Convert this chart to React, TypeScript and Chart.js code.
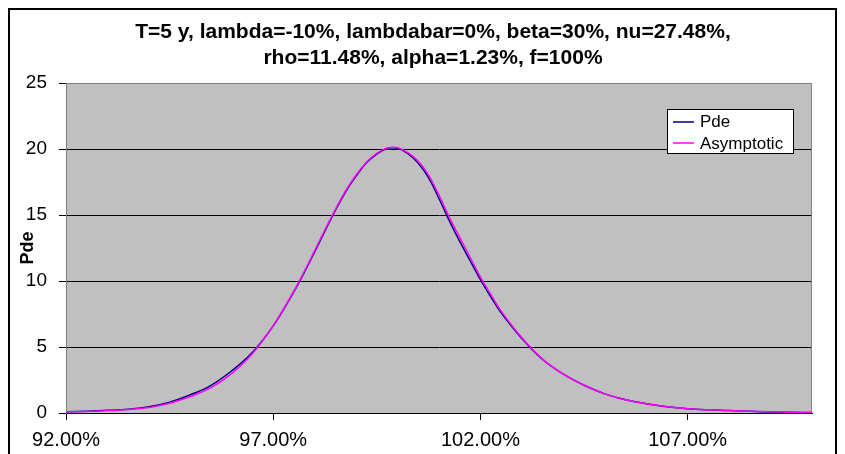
import React, { useEffect, useRef } from 'react';
import { Chart, registerables } from 'chart.js';

Chart.register(...registerables);

const TITLE_LINES = [
  'T=5 y, lambda=-10%, lambdabar=0%, beta=30%, nu=27.48%,',
  'rho=11.48%, alpha=1.23%, f=100%',
];
const Y_TITLE = 'Pde';
const SERIES_NAMES = ['Pde', 'Asymptotic'];
const SERIES_COLORS = ['#000080', '#FF00FF'];

const STRIKES = [
  92.0, 92.5, 93.0, 93.5, 94.0, 94.5, 95.0, 95.5, 96.0, 96.5, 97.0,
  97.5, 97.75, 98.0, 98.25, 98.5, 98.75, 99.0, 99.25, 99.5, 99.75, 100.0,
  100.25, 100.5, 100.75, 101.0, 101.25, 101.5, 101.75, 102.0, 102.25, 102.5,
  103.0, 103.5, 104.0, 104.5, 105.0, 105.5, 106.0, 106.5, 107.0, 107.5,
  108.0, 108.5, 109.0, 109.5, 110.0,
];
const PDE = [
  0.10, 0.14, 0.20, 0.29, 0.47, 0.82, 1.38, 2.10, 3.20, 4.60, 6.60,
  9.20, 10.65, 12.20, 13.80, 15.35, 16.78, 17.95, 18.95, 19.62, 20.04, 20.06,
  19.65, 18.92, 17.82, 16.25, 14.55, 13.00, 11.55, 10.10, 8.80, 7.60,
  5.65, 4.05, 2.95, 2.10, 1.45, 1.00, 0.70, 0.48, 0.33, 0.24,
  0.18, 0.13, 0.08, 0.05, 0.03,
];
const ASYMPTOTIC = [
  0.09, 0.12, 0.18, 0.26, 0.42, 0.74, 1.25, 1.92, 3.00, 4.50, 6.62,
  9.25, 10.72, 12.30, 13.88, 15.42, 16.85, 18.03, 19.00, 19.67, 20.07, 20.10,
  19.72, 19.07, 18.02, 16.50, 14.82, 13.30, 11.80, 10.30, 8.98, 7.72,
  5.70, 4.08, 2.95, 2.10, 1.45, 1.00, 0.70, 0.48, 0.33, 0.24,
  0.18, 0.13, 0.09, 0.06, 0.03,
];
const X_TICKS = [92, 97, 102, 107];
const Y_TICKS = [0, 5, 10, 15, 20, 25];

const FONT = "'Liberation Sans', Arial, sans-serif";

const decor = {
  id: 'decor',
  beforeDraw(chart: any) {
    const { ctx, chartArea: a } = chart;
    ctx.save();
    ctx.fillStyle = '#C0C0C0';
    ctx.fillRect(a.left, a.top, a.right - a.left, a.bottom - a.top);
    ctx.restore();
    ctx.save();
    ctx.fillStyle = '#000';
    ctx.font = `bold 21px ${FONT}`;
    ctx.textAlign = 'center';
    ctx.textBaseline = 'middle';
    TITLE_LINES.forEach((t, i) => ctx.fillText(t, 423, 22 + i * 26));
    ctx.restore();
  },
  beforeDatasetsDraw(chart: any) {
    const { ctx, chartArea: a } = chart;
    ctx.save();
    ctx.strokeStyle = '#808080';
    ctx.lineWidth = 1;
    ctx.beginPath();
    ctx.moveTo(a.left, a.top + 0.5);
    ctx.lineTo(a.right - 0.5, a.top + 0.5);
    ctx.lineTo(a.right - 0.5, a.bottom);
    ctx.stroke();
    ctx.restore();
  },
  afterDraw(chart: any) {
    const { ctx, chartArea: a } = chart;
    const left = a.right - 145;
    const top = a.top + 26;
    const w = 126;
    const h = 44;
    ctx.save();
    ctx.fillStyle = '#fff';
    ctx.fillRect(left, top, w, h);
    ctx.strokeStyle = '#000';
    ctx.lineWidth = 1;
    ctx.strokeRect(left + 0.5, top + 0.5, w, h);
    ctx.font = `17px ${FONT}`;
    ctx.textBaseline = 'middle';
    chart.data.datasets.forEach((ds: any, i: number) => {
      const y = top + 12.5 + i * 21.5;
      ctx.strokeStyle = SERIES_COLORS[i];
      ctx.lineWidth = 1.5;
      ctx.beginPath();
      ctx.moveTo(left + 6, Math.round(y));
      ctx.lineTo(left + 27, Math.round(y));
      ctx.stroke();
      ctx.fillStyle = '#000';
      ctx.fillText(ds.label, left + 33, y + 1);
    });
    ctx.restore();
  },
};

export default function App() {
  const ref = useRef<HTMLCanvasElement>(null);
  useEffect(() => {
    if (!ref.current) return;
    const chart = new Chart(ref.current, {
      type: 'line',
      data: {
        datasets: [
          {
            label: SERIES_NAMES[0],
            data: STRIKES.map((x, i) => ({ x, y: PDE[i] })),
            borderColor: SERIES_COLORS[0],
            borderWidth: 1.5,
            pointRadius: 0,
            tension: 0.4,
            order: 2,
          },
          {
            label: SERIES_NAMES[1],
            data: STRIKES.map((x, i) => ({ x, y: ASYMPTOTIC[i] })),
            borderColor: SERIES_COLORS[1],
            borderWidth: 1.5,
            pointRadius: 0,
            tension: 0.4,
            order: 1,
          },
        ],
      },
      plugins: [decor],
      options: {
        animation: false,
        responsive: false,
        devicePixelRatio: 1,
        layout: { padding: { left: 0, right: 23, top: 73, bottom: 0 } },
        plugins: {
          legend: { display: false },
          title: { display: false },
          tooltip: { enabled: false },
        },
        scales: {
          x: {
            type: 'linear',
            min: 92,
            max: 110,
            afterBuildTicks: (s: any) => {
              s.ticks = X_TICKS.map((v) => ({ value: v }));
            },
            afterFit: (s: any) => {
              s.height = 57;
            },
            ticks: {
              callback: (v: any) => Number(v).toFixed(2) + '%',
              font: { family: FONT, size: 20 },
              color: '#000',
              padding: 8,
              maxRotation: 0,
              autoSkip: false,
            },
            grid: {
              drawOnChartArea: false,
              drawTicks: true,
              tickLength: 7,
              tickColor: '#000',
            },
            border: { color: '#000', width: 1 },
          },
          y: {
            min: 0,
            max: 25,
            afterBuildTicks: (s: any) => {
              s.ticks = Y_TICKS.map((v) => ({ value: v }));
            },
            afterFit: (s: any) => {
              s.width = 56;
            },
            ticks: {
              font: { family: FONT, size: 19 },
              color: '#000',
              padding: 12,
            },
            grid: {
              color: (c: any) => (c.tick && c.tick.value === 25 ? '#808080' : '#000'),
              drawTicks: true,
              tickLength: 7,
              tickColor: '#000',
            },
            border: { color: '#808080', width: 1 },
            title: {
              display: true,
              text: Y_TITLE,
              color: '#000',
              font: { family: FONT, size: 18, weight: 'bold' },
              padding: { top: 7, bottom: 0 },
            },
          },
        },
      },
    } as any);
    return () => chart.destroy();
  }, []);
  return (
    <div style={{ width: 825, height: 460, border: '2px solid #000', background: '#fff' }}>
      <canvas ref={ref} width={825} height={460} style={{ display: 'block' }} />
    </div>
  );
}
